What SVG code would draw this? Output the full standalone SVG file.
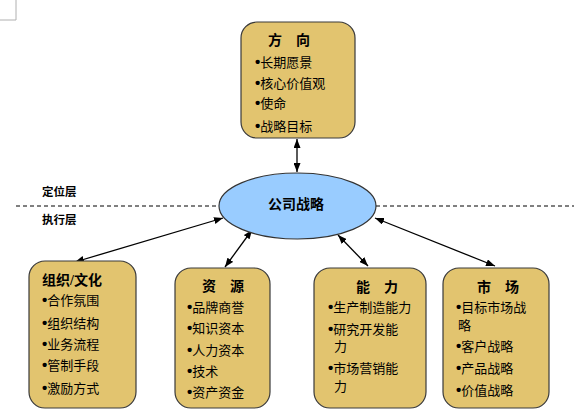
<svg xmlns="http://www.w3.org/2000/svg" width="574" height="417" viewBox="0 0 574 417">
<style>
.box{fill:#E2C46F;stroke:#3a3a3a;stroke-width:1.2}
.t{font-family:"Liberation Serif","Noto Sans CJK SC",serif;font-size:13px;fill:#000}
.b{font-family:"Liberation Sans",sans-serif;font-size:15px;font-weight:bold}
.h{font-family:"Liberation Serif","Noto Sans CJK SC",serif;font-size:14px;font-weight:bold;fill:#000}
.lbl{font-family:"Liberation Serif","Noto Sans CJK SC",serif;font-size:11.5px;font-weight:bold;fill:#000}
.con{stroke:#000;stroke-width:1.3;fill:none;marker-start:url(#ah);marker-end:url(#ah)}
.dash{stroke:#000;stroke-width:1;stroke-dasharray:4 3;fill:none}
</style>
<defs>
<marker id="ah" markerUnits="userSpaceOnUse" markerWidth="9" markerHeight="7" refX="9" refY="3.5" orient="auto-start-reverse">
<path d="M0,0 L9,3.5 L0,7 z" fill="#000"/>
</marker>
</defs>
<path d="M0,20 H16 V0" fill="none" stroke="#b0b0b0" stroke-width="1"/>
<g id="layers">
<line class="dash" x1="16" y1="206" x2="219" y2="206"/>
<line class="dash" x1="376" y1="206" x2="574" y2="206"/>
<text class="lbl" x="42" y="196">定位层</text>
<text class="lbl" x="42" y="224">执行层</text>
</g>
<g id="connectors">
<line class="con" x1="297" y1="139" x2="297" y2="172"/>
<line class="con" x1="223" y1="218" x2="75" y2="262"/>
<line class="con" x1="252" y1="230" x2="225" y2="267"/>
<line class="con" x1="338" y1="235" x2="368" y2="266"/>
<line class="con" x1="375" y1="218" x2="495" y2="266"/>
</g>
<g id="direction">
<rect class="box" x="241" y="22" width="114" height="116" rx="16"/>
<text class="h" x="289" y="45" text-anchor="middle">方　向</text>
<text class="t" x="255" y="67"><tspan class="b">•</tspan>长期愿景</text>
<text class="t" x="255" y="88"><tspan class="b">•</tspan>核心价值观</text>
<text class="t" x="255" y="108"><tspan class="b">•</tspan>使命</text>
<text class="t" x="255" y="131"><tspan class="b">•</tspan>战略目标</text>
</g>
<g id="strategy">
<ellipse cx="297.5" cy="206" rx="78.5" ry="33" fill="#99CCFF" stroke="#333" stroke-width="1.2"/>
<text class="h" x="296" y="209" text-anchor="middle" font-size="16">公司战略</text>
</g>
<g id="org">
<rect class="box" x="29" y="261" width="107" height="147" rx="16"/>
<text class="h" x="42" y="285">组织/文化</text>
<text class="t" x="42" y="305"><tspan class="b">•</tspan>合作氛围</text>
<text class="t" x="42" y="328"><tspan class="b">•</tspan>组织结构</text>
<text class="t" x="42" y="349"><tspan class="b">•</tspan>业务流程</text>
<text class="t" x="42" y="370"><tspan class="b">•</tspan>管制手段</text>
<text class="t" x="42" y="393"><tspan class="b">•</tspan>激励方式</text>
</g>
<g id="resource">
<rect class="box" x="175" y="268" width="95" height="140" rx="16"/>
<text class="h" x="223" y="291" text-anchor="middle">资　源</text>
<text class="t" x="187" y="312"><tspan class="b">•</tspan>品牌商誉</text>
<text class="t" x="187" y="333"><tspan class="b">•</tspan>知识资本</text>
<text class="t" x="187" y="355"><tspan class="b">•</tspan>人力资本</text>
<text class="t" x="187" y="376"><tspan class="b">•</tspan>技术</text>
<text class="t" x="187" y="397"><tspan class="b">•</tspan>资产资金</text>
</g>
<g id="capability">
<rect class="box" x="314" y="268" width="112" height="140" rx="16"/>
<text class="h" x="377" y="292" text-anchor="middle">能　力</text>
<text class="t" x="328" y="312"><tspan class="b">•</tspan>生产制造能力</text>
<text class="t" x="328" y="334"><tspan class="b">•</tspan>研究开发能</text>
<text class="t" x="334" y="351">力</text>
<text class="t" x="328" y="373"><tspan class="b">•</tspan>市场营销能</text>
<text class="t" x="334" y="391">力</text>
</g>
<g id="market">
<rect class="box" x="443" y="268" width="106" height="140" rx="16"/>
<text class="h" x="498" y="292" text-anchor="middle">市　场</text>
<text class="t" x="456" y="312"><tspan class="b">•</tspan>目标市场战</text>
<text class="t" x="458" y="330">略</text>
<text class="t" x="456" y="351"><tspan class="b">•</tspan>客户战略</text>
<text class="t" x="456" y="373"><tspan class="b">•</tspan>产品战略</text>
<text class="t" x="456" y="395"><tspan class="b">•</tspan>价值战略</text>
</g>
</svg>
